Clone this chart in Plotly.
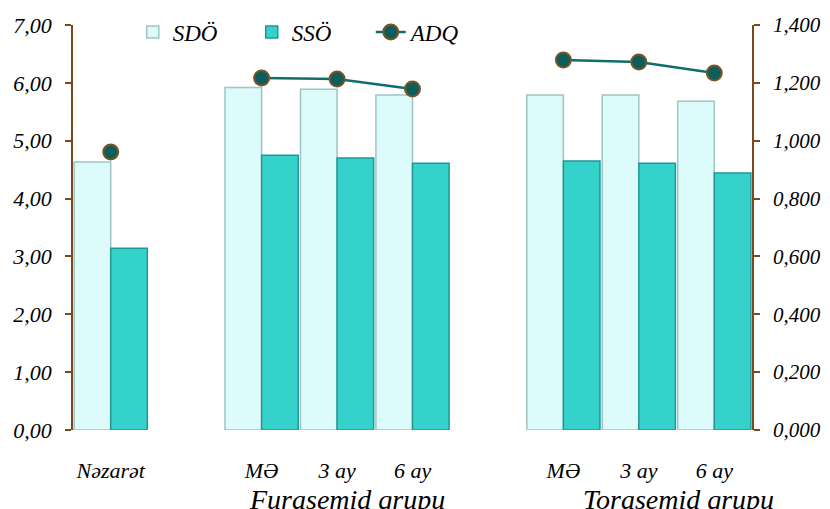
import plotly.graph_objects as go

categories = ["Nəzarət", "MƏ", "3 ay", "6 ay", "MƏ", "3 ay", "6 ay"]
positions = [0, 2, 3, 4, 6, 7, 8]
sdo = [4.63, 5.92, 5.89, 5.79, 5.79, 5.79, 5.68]
sso = [3.14, 4.75, 4.70, 4.61, 4.65, 4.61, 4.44]
adq = [0.961, 1.217, 1.213, 1.179, 1.279, 1.272, 1.234]
groups = ["Furasemid qrupu", "Torasemid qrupu"]
group_pos = [3.13, 7.53]

# ADQ line broken between groups
adq_x = [0, None, 2, 3, 4, None, 6, 7, 8]
adq_y = [adq[0], None, adq[1], adq[2], adq[3], None, adq[4], adq[5], adq[6]]

font_fam = "Liberation Serif, Times New Roman, serif"
brown = "#7b4a1c"

fig = go.Figure()
fig.add_trace(go.Bar(x=positions, y=sdo, name="<i>SDÖ</i>",
                     marker=dict(color="#dcfbfa", line=dict(color="#9fc4c4", width=1.5))))
fig.add_trace(go.Bar(x=positions, y=sso, name="<i>SSÖ</i>",
                     marker=dict(color="#35d2cc", line=dict(color="#1f9894", width=1.5))))
fig.add_trace(go.Scatter(x=adq_x, y=adq_y, name="<i>ADQ</i>", yaxis="y2",
                         mode="lines+markers", connectgaps=False,
                         line=dict(color="#0e6e6c", width=2.5),
                         marker=dict(size=15, color="#0b5e5c", line=dict(color="#7a5424", width=2))))

fig.update_layout(
    width=822, height=501,
    margin=dict(l=65, r=78, t=17, b=79, autoexpand=False),
    paper_bgcolor="white", plot_bgcolor="white",
    barmode="group", bargap=0.03, bargroupgap=0,
    font=dict(family=font_fam, size=21, color="black"),
    showlegend=True,
    legend=dict(orientation="h", x=0.088, y=0.952, xref="paper", yref="container",
                xanchor="left", yanchor="middle",
                font=dict(family=font_fam, size=23), bgcolor="rgba(0,0,0,0)",
                entrywidth=74, entrywidthmode="pixels"),
    xaxis=dict(range=[-0.5, 8.5], tickvals=positions,
               ticktext=["<i>%s</i>" % c for c in categories],
               showgrid=False, zeroline=False, showline=False, ticks="",
               ticklabelstandoff=25, tickfont=dict(size=22)),
    yaxis=dict(range=[0, 7], tickvals=[0, 1, 2, 3, 4, 5, 6, 7],
               ticktext=["<i>%d,00</i>" % v for v in range(8)],
               showgrid=False, zeroline=False, showline=True, linecolor=brown, linewidth=1.5,
               ticks="outside", ticklen=6, tickcolor=brown, tickwidth=1.5,
               ticklabelstandoff=9, tickfont=dict(size=22)),
    yaxis2=dict(range=[0, 1.4], overlaying="y", side="right",
                tickvals=[0, 0.2, 0.4, 0.6, 0.8, 1.0, 1.2, 1.4],
                ticktext=["<i>0,000</i>", "<i>0,200</i>", "<i>0,400</i>", "<i>0,600</i>",
                          "<i>0,800</i>", "<i>1,000</i>", "<i>1,200</i>", "<i>1,400</i>"],
                showgrid=False, zeroline=False, showline=True, linecolor=brown, linewidth=1.5,
                ticks="outside", ticklen=6, tickcolor=brown, tickwidth=1.5,
                ticklabelstandoff=9, tickfont=dict(size=21)),
)

for g, gx in zip(groups, group_pos):
    fig.add_annotation(x=gx, y=-0.172, xref="x", yref="paper", text="<i>" + g + "</i>",
                       showarrow=False, font=dict(family=font_fam, size=28), yanchor="middle")

fig.write_html("out.html")
